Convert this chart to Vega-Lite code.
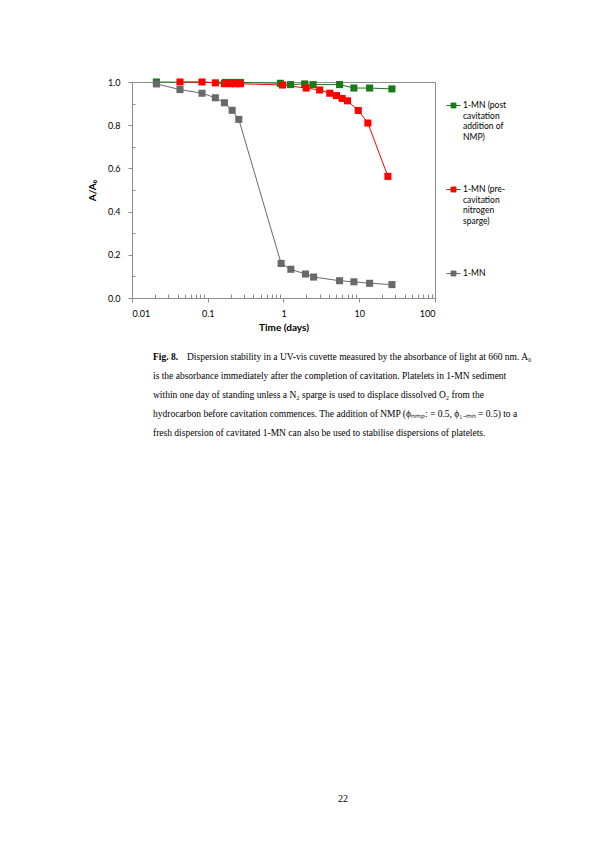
{
  "$schema": "https://vega.github.io/schema/vega-lite/v6.json",
  "background": "white",
  "padding": {"left": 86, "top": 77, "right": 0, "bottom": 0},
  "spacing": 19,
  "config": {
    "view": {"stroke": null},
    "axis": {
      "labelFont": "Lato",
      "labelFontSize": 9,
      "labelColor": "#000000",
      "titleFont": "Lato",
      "titleFontSize": 10,
      "titleFontWeight": "bold",
      "titleColor": "#000000",
      "domainColor": "#8c8c8c",
      "tickColor": "#8c8c8c",
      "grid": false
    }
  },
  "vconcat": [
    {
      "width": 303,
      "height": 216,
      "view": {"stroke": "#8c8c8c"},
      "data": {
        "values": [
          {"series": "1-MN (post cavitation addition of NMP)", "time": 0.021, "ratio": 1.0},
          {"series": "1-MN (post cavitation addition of NMP)", "time": 0.17, "ratio": 0.998},
          {"series": "1-MN (post cavitation addition of NMP)", "time": 0.2, "ratio": 0.998},
          {"series": "1-MN (post cavitation addition of NMP)", "time": 0.23, "ratio": 0.998},
          {"series": "1-MN (post cavitation addition of NMP)", "time": 0.27, "ratio": 0.998},
          {"series": "1-MN (post cavitation addition of NMP)", "time": 0.91, "ratio": 0.994},
          {"series": "1-MN (post cavitation addition of NMP)", "time": 1.24, "ratio": 0.988},
          {"series": "1-MN (post cavitation addition of NMP)", "time": 1.9, "ratio": 0.991},
          {"series": "1-MN (post cavitation addition of NMP)", "time": 2.46, "ratio": 0.988},
          {"series": "1-MN (post cavitation addition of NMP)", "time": 5.5, "ratio": 0.988},
          {"series": "1-MN (post cavitation addition of NMP)", "time": 8.5, "ratio": 0.972},
          {"series": "1-MN (post cavitation addition of NMP)", "time": 13.7, "ratio": 0.972},
          {"series": "1-MN (post cavitation addition of NMP)", "time": 27, "ratio": 0.968},
          {"series": "1-MN (pre-cavitation nitrogen sparge)", "time": 0.043, "ratio": 1.0},
          {"series": "1-MN (pre-cavitation nitrogen sparge)", "time": 0.084, "ratio": 1.0},
          {"series": "1-MN (pre-cavitation nitrogen sparge)", "time": 0.126, "ratio": 0.996},
          {"series": "1-MN (pre-cavitation nitrogen sparge)", "time": 0.166, "ratio": 0.992},
          {"series": "1-MN (pre-cavitation nitrogen sparge)", "time": 0.2, "ratio": 0.992},
          {"series": "1-MN (pre-cavitation nitrogen sparge)", "time": 0.232, "ratio": 0.992},
          {"series": "1-MN (pre-cavitation nitrogen sparge)", "time": 0.27, "ratio": 0.992},
          {"series": "1-MN (pre-cavitation nitrogen sparge)", "time": 0.97, "ratio": 0.986},
          {"series": "1-MN (pre-cavitation nitrogen sparge)", "time": 1.99, "ratio": 0.972},
          {"series": "1-MN (pre-cavitation nitrogen sparge)", "time": 3.0, "ratio": 0.963},
          {"series": "1-MN (pre-cavitation nitrogen sparge)", "time": 4.08, "ratio": 0.948},
          {"series": "1-MN (pre-cavitation nitrogen sparge)", "time": 5.0, "ratio": 0.937},
          {"series": "1-MN (pre-cavitation nitrogen sparge)", "time": 5.94, "ratio": 0.924},
          {"series": "1-MN (pre-cavitation nitrogen sparge)", "time": 7.0, "ratio": 0.913},
          {"series": "1-MN (pre-cavitation nitrogen sparge)", "time": 9.7, "ratio": 0.868},
          {"series": "1-MN (pre-cavitation nitrogen sparge)", "time": 13, "ratio": 0.81},
          {"series": "1-MN (pre-cavitation nitrogen sparge)", "time": 23.9, "ratio": 0.563},
          {"series": "1-MN", "time": 0.021, "ratio": 0.991},
          {"series": "1-MN", "time": 0.043, "ratio": 0.965},
          {"series": "1-MN", "time": 0.084, "ratio": 0.948},
          {"series": "1-MN", "time": 0.126, "ratio": 0.927},
          {"series": "1-MN", "time": 0.166, "ratio": 0.904},
          {"series": "1-MN", "time": 0.21, "ratio": 0.869},
          {"series": "1-MN", "time": 0.257, "ratio": 0.827},
          {"series": "1-MN", "time": 0.93, "ratio": 0.16},
          {"series": "1-MN", "time": 1.25, "ratio": 0.133},
          {"series": "1-MN", "time": 1.95, "ratio": 0.111},
          {"series": "1-MN", "time": 2.5, "ratio": 0.097},
          {"series": "1-MN", "time": 5.5, "ratio": 0.08},
          {"series": "1-MN", "time": 8.5, "ratio": 0.075},
          {"series": "1-MN", "time": 13.7, "ratio": 0.068},
          {"series": "1-MN", "time": 27, "ratio": 0.062}
        ]
      },
      "layer": [
        {
          "mark": {"type": "line", "strokeWidth": 1},
          "encoding": {
            "x": {
              "field": "time",
              "type": "quantitative",
              "scale": {"type": "log", "domain": [0.01, 100], "nice": false},
              "axis": {
                "orient": "bottom",
                "values": [0.01, 0.1, 1, 10, 100],
                "format": "~g",
                "tickSize": 4,
                "labelPadding": 7,
                "title": "Time (days)",
                "titlePadding": 4
              }
            },
            "y": {
              "field": "ratio",
              "type": "quantitative",
              "scale": {"domain": [0, 1], "nice": false},
              "axis": {
                "orient": "left",
                "values": [0, 0.2, 0.4, 0.6, 0.8, 1.0],
                "format": ".1f",
                "tickSize": 4,
                "labelPadding": 8,
                "title": "A/A₀",
                "titlePadding": 10
              }
            },
            "color": {
              "field": "series",
              "type": "nominal",
              "scale": {
                "domain": ["1-MN (post cavitation addition of NMP)", "1-MN (pre-cavitation nitrogen sparge)", "1-MN"],
                "range": ["#1a7a1a", "#ff0000", "#696969"]
              },
              "legend": {
                "orient": "none",
                "legendX": 314,
                "legendY": 16,
                "title": null,
                "padding": 0,
                "symbolType": "M-1,0H1M-0.35,-0.35H0.35V0.35H-0.35Z",
                "symbolSize": 196,
                "symbolStrokeWidth": 1,
                "labelFont": "Lato",
                "labelFontSize": 8.5,
                "labelColor": "#000000",
                "labelLimit": 0,
                "labelBaseline": "top",
                "labelOffset": 2,
                "rowPadding": 41,
                "labelExpr": "datum.label == '1-MN' ? '1-MN' : (datum.label == '1-MN (post cavitation addition of NMP)' ? ['1-MN (post', 'cavitation', 'addition of', 'NMP)'] : ['1-MN (pre-', 'cavitation', 'nitrogen', 'sparge)'])",
                "encode": {
                  "labels": {"update": {"dy": {"value": -4.5}, "lineHeight": {"value": 10.5}}},
                  "symbols": {"update": {"fill": {"scale": "color", "field": "value"}, "stroke": {"scale": "color", "field": "value"}}}
                }
              }
            }
          }
        },
        {
          "mark": {"type": "point", "shape": "square", "filled": true, "size": 50, "opacity": 1},
          "encoding": {
            "x": {
              "field": "time",
              "type": "quantitative",
              "axis": {
                "orient": "bottom",
                "values": [0.02, 0.03, 0.04, 0.05, 0.06, 0.07, 0.08, 0.09, 0.2, 0.3, 0.4, 0.5, 0.6, 0.7, 0.8, 0.9, 2, 3, 4, 5, 6, 7, 8, 9, 20, 30, 40, 50, 60, 70, 80, 90],
                "labels": false,
                "domain": false,
                "tickSize": -4,
                "title": null
              }
            },
            "y": {
              "field": "ratio",
              "type": "quantitative",
              "axis": {
                "orient": "left",
                "values": [0.1, 0.3, 0.5, 0.7, 0.9],
                "labels": false,
                "domain": false,
                "tickSize": -3,
                "title": null
              }
            },
            "color": {"field": "series", "type": "nominal"}
          }
        }
      ],
      "resolve": {"axis": {"x": "independent", "y": "independent"}}
    },
    {
      "width": 381,
      "height": 418,
      "data": {
        "values": [
          {"line": 1, "part": "label", "text": "Fig. 8."},
          {"line": 1, "part": "lead", "text": "Dispersion stability in a UV-vis cuvette measured by the absorbance of light at 660 nm.  A₀"},
          {"line": 2, "part": "body", "text": "is the absorbance immediately after the completion of cavitation.  Platelets in 1-MN sediment"},
          {"line": 3, "part": "body", "text": "within one day of standing unless a N₂ sparge is used to displace dissolved O₂ from the"},
          {"line": 4, "part": "body", "text": "hydrocarbon before cavitation commences.  The addition of NMP (ϕₙₘₚ: = 0.5, ϕ₁₋ₘₙ = 0.5) to a"},
          {"line": 5, "part": "body", "text": "fresh dispersion of cavitated 1-MN can also be used to stabilise dispersions of platelets."}
        ]
      },
      "encoding": {
        "x": {"datum": 0, "type": "quantitative", "scale": {"domain": [0, 1]}, "axis": null},
        "y": {"field": "line", "type": "quantitative", "scale": {"domain": [1, 23], "reverse": true}, "axis": null},
        "text": {"field": "text", "type": "nominal"}
      },
      "layer": [
        {
          "transform": [{"filter": "datum.part == 'label'"}],
          "mark": {"type": "text", "align": "left", "baseline": "middle", "font": "Liberation Serif", "fontSize": 9.5, "fontWeight": "bold", "color": "#000000", "dx": 21}
        },
        {
          "transform": [{"filter": "datum.part == 'lead'"}],
          "mark": {"type": "text", "align": "left", "baseline": "middle", "font": "Liberation Serif", "fontSize": 9.5, "color": "#000000", "dx": 55}
        },
        {
          "transform": [{"filter": "datum.part == 'body'"}],
          "mark": {"type": "text", "align": "left", "baseline": "middle", "font": "Liberation Serif", "fontSize": 9.5, "color": "#000000", "dx": 21}
        }
      ]
    },
    {
      "width": 422,
      "height": 10,
      "data": {"values": [{"page": "22"}]},
      "mark": {"type": "text", "font": "Liberation Serif", "fontSize": 10, "color": "#000000"},
      "encoding": {"text": {"field": "page", "type": "nominal"}}
    }
  ]
}
